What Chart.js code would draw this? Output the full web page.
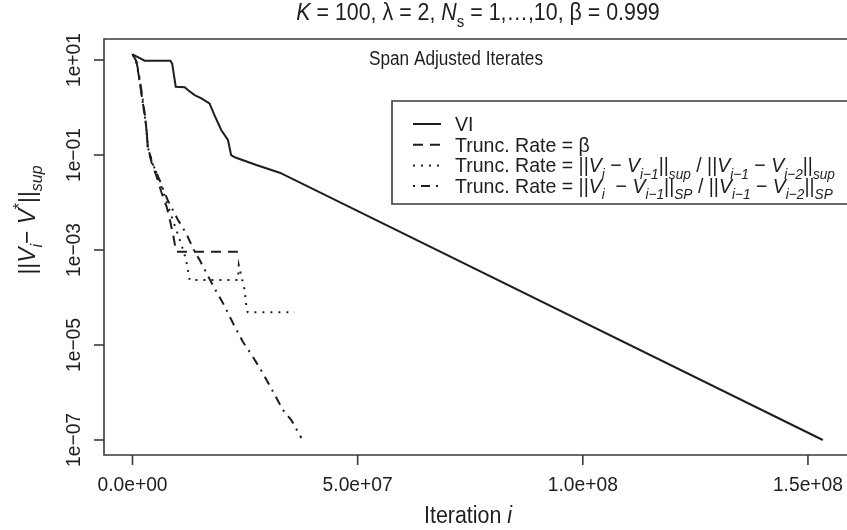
<!DOCTYPE html>
<html lang="en">
<head>
<meta charset="UTF-8">
<title>Span Adjusted Iterates</title>
<script src="https://cdn.jsdelivr.net/npm/chart.js"></script>
<style>
  html, body { margin: 0; padding: 0; background: #fff; }
  canvas { display: block; }
</style>
</head>
<body>
<canvas id="chart" width="847" height="530"></canvas>
<script>
// values (iteration i, ||V_i - V*||_sup)
const viX = [0, 2.7e6, 8.4e6, 8.8e6, 9.6e6, 1.16e7, 1.23e7, 1.38e7, 1.53e7, 1.71e7, 1.82e7, 1.97e7, 2.12e7, 2.19e7, 2.27e7, 2.75e7, 3.27e7, 1.533e8];
const viY = [13.2, 9.7, 9.7, 8.5, 2.74, 2.66, 2.34, 1.83, 1.56, 1.22, 0.695, 0.336, 0.207, 0.100, 0.0895, 0.0616, 0.0424, 1e-7];

const betaX = [0, 8e5, 1.3e6, 2.2e6, 3.0e6, 3.4e6, 4.2e6, 5.3e6, 6.4e6, 7.6e6, 8.4e6, 9.1e6, 9.7e6, 2.34e7];
const betaY = [13.2, 9.7, 5.3, 1.44, 0.428, 0.147, 0.0713, 0.0361, 0.0166, 0.0080, 0.0039, 0.0019, 9.2e-4, 9.2e-4];

const supX = [0, 8e5, 1.3e6, 2.2e6, 3.0e6, 3.4e6, 4.4e6, 5.8e6, 6.9e6, 8.0e6, 9.1e6, 1.02e7, 1.11e7, 1.19e7, 1.27e7, 2.34e7, 2.36e7, 2.42e7, 2.49e7, 2.53e7, 2.56e7, 3.6e7];
const supY = [13.2, 9.7, 5.3, 1.44, 0.428, 0.147, 0.068, 0.0328, 0.0158, 0.0077, 0.0039, 0.00197, 0.0011, 6.2e-4, 2.33e-4, 2.33e-4, 4.8e-4, 2.74e-4, 1.44e-4, 6.4e-5, 4.9e-5, 4.9e-5];

const spX = [0, 8e5, 1.4e6, 2.3e6, 3.05e6, 3.4e6, 4.2e6, 4.9e6, 6.0e6, 7.8e6, 1.01e7, 1.19e7, 1.38e7, 1.49e7, 1.82e7, 2.01e7, 2.23e7, 2.45e7, 2.67e7, 2.9e7, 3.12e7, 3.34e7, 3.53e7, 3.75e7];
const spY = [13.2, 9.7, 5.3, 1.44, 0.428, 0.147, 0.0785, 0.0525, 0.0298, 0.0113, 0.0043, 0.00225, 9.2e-4, 6.2e-4, 1.56e-4, 7.6e-5, 2.9e-5, 1.17e-5, 5.7e-6, 2.5e-6, 1.04e-6, 4.3e-7, 2.6e-7, 1.1e-7];

const xTicks = [0, 5e7, 1e8, 1.5e8];
const xTickLabels = ['0.0e+00', '5.0e+07', '1.0e+08', '1.5e+08'];
const yTicks = [1e1, 1e-1, 1e-3, 1e-5, 1e-7];
const yTickLabels = ['1e+01', '1e\u221201', '1e\u221203', '1e\u221205', '1e\u221207'];

const FONT = '"Liberation Sans", Arial, sans-serif';
const INK = '#1e1e1e';

// little rich-text helpers (italic, subscripts) for the math labels
const N = t => ({ t });
const I = t => ({ t, it: true });
const B = t => ({ t, it: true, sub: true });
const S = t => ({ t, sub: true });
const P = t => ({ t, sup: true });

function segWidth(ctx, s, size, sx) {
    const sz = (s.sub || s.sup) ? size * 0.7 : size;
    ctx.font = (s.it ? 'italic ' : '') + sz + 'px ' + FONT;
    return ctx.measureText(s.t).width * sx;
}

// draws a row of segments, squeezed horizontally by sx (narrow face)
function rich(ctx, segs, x, y, size, align, sx) {
    sx = sx || 0.93;
    let total = 0;
    segs.forEach(s => total += segWidth(ctx, s, size, sx));
    let cx = align === 'center' ? x - total / 2 : align === 'right' ? x - total : x;
    segs.forEach(s => {
        const w = segWidth(ctx, s, size, sx);
        const dy = s.sub ? size * 0.3 : s.sup ? -size * 0.4 : 0;
        ctx.save();
        ctx.translate(cx, y + dy);
        ctx.scale(sx, 1);
        ctx.fillText(s.t, 0, 0);
        ctx.restore();
        cx += w;
    });
}

const styles = {
    vi:   [],
    beta: [10, 7],
    sup:  [2, 6],
    sp:   [2, 6, 9, 6]
};

const legendRows = [
    { dash: styles.vi, segs: [N('VI')] },
    { dash: styles.beta, segs: [N('Trunc. Rate = \u03b2')] },
    { dash: styles.sup, segs: [N('Trunc. Rate = ||'), I('V'), B('i'), N(' \u2212 '), I('V'), B('i\u22121'), N('||'), B('sup'), N(' / ||'), I('V'), B('i\u22121'), N(' \u2212 '), I('V'), B('i\u22122'), N('||'), B('sup')] },
    { dash: styles.sp, segs: [N('Trunc. Rate = ||'), I('V'), B('i'), N('  \u2212 '), I('V'), B('i\u22121'), N('||'), B('SP'), N(' / ||'), I('V'), B('i\u22121'), N(' \u2212 '), I('V'), B('i\u22122'), N('||'), B('SP')] }
];

const decorations = {
    id: 'decorations',
    afterDraw(chart) {
        const ctx = chart.ctx;
        const a = chart.chartArea;
        const xs = chart.scales.x, ys = chart.scales.y;
        ctx.save();

        // box (right side runs off the picture)
        ctx.strokeStyle = '#3a3a3a';
        ctx.lineWidth = 1.6;
        ctx.setLineDash([]);
        ctx.beginPath();
        ctx.moveTo(chart.width + 5, a.top);
        ctx.lineTo(a.left, a.top);
        ctx.lineTo(a.left, a.bottom);
        ctx.lineTo(chart.width + 5, a.bottom);
        ctx.stroke();

        ctx.fillStyle = INK;
        ctx.textBaseline = 'alphabetic';

        // x axis ticks
        xTicks.forEach((v, i) => {
            const px = xs.getPixelForValue(v);
            ctx.beginPath();
            ctx.moveTo(px, a.bottom);
            ctx.lineTo(px, a.bottom + 10);
            ctx.stroke();
            rich(ctx, [N(xTickLabels[i])], px, 491, 20.7, 'center');
        });

        // y axis ticks, labels turned
        yTicks.forEach((v, i) => {
            const py = ys.getPixelForValue(v);
            ctx.beginPath();
            ctx.moveTo(a.left, py);
            ctx.lineTo(a.left - 10, py);
            ctx.stroke();
            ctx.save();
            ctx.translate(80, py);
            ctx.rotate(-Math.PI / 2);
            rich(ctx, [N(yTickLabels[i])], 0, 0, 20.7, 'center');
            ctx.restore();
        });

        // axis titles
        rich(ctx, [N('Iteration '), I('i')], 468, 523, 23, 'center');
        ctx.save();
        ctx.translate(35, 220);
        ctx.rotate(-Math.PI / 2);
        rich(ctx, [N('||'), I('V'), B('i'), N('\u2212 '), I('V'), P('*'), N('||'), B('sup')], 0, 0, 24.5, 'center');
        ctx.restore();

        // main title and inner label
        rich(ctx, [I('K'), N(' = 100, \u03bb = 2, '), I('N'), S('s'), N(' = 1,\u2026,10, \u03b2 = 0.999')], 478, 20, 23, 'center');
        rich(ctx, [N('Span Adjusted Iterates')], 456, 65, 20, 'center', 0.86);

        // legend
        ctx.fillStyle = '#fff';
        ctx.fillRect(392, 101, chart.width, 103);
        ctx.strokeStyle = '#3a3a3a';
        ctx.lineWidth = 1.6;
        ctx.beginPath();
        ctx.moveTo(chart.width + 5, 101);
        ctx.lineTo(392, 101);
        ctx.lineTo(392, 204);
        ctx.lineTo(chart.width + 5, 204);
        ctx.stroke();

        legendRows.forEach((row, i) => {
            const cy = 124 + i * 20.7;
            ctx.strokeStyle = INK;
            ctx.lineWidth = 2;
            ctx.setLineDash(row.dash);
            ctx.beginPath();
            ctx.moveTo(413, cy);
            ctx.lineTo(441, cy);
            ctx.stroke();
            ctx.setLineDash([]);
            ctx.fillStyle = INK;
            rich(ctx, row.segs, 455, cy + 7, 21, 'left');
        });

        ctx.restore();
    }
};

const pts = (xs, ys) => xs.map((x, i) => ({ x: x, y: ys[i] }));

const lineSet = (label, xs, ys, dash) => ({
    label: label,
    data: pts(xs, ys),
    borderColor: INK,
    borderWidth: 2,
    borderDash: dash,
    pointRadius: 0,
    fill: false,
    tension: 0
});

new Chart(document.getElementById('chart').getContext('2d'), {
    type: 'line',
    data: {
        datasets: [
            lineSet('VI', viX, viY, styles.vi),
            lineSet('Trunc. Rate = \u03b2', betaX, betaY, styles.beta),
            lineSet('Trunc. Rate (sup)', supX, supY, styles.sup),
            lineSet('Trunc. Rate (SP)', spX, spY, styles.sp)
        ]
    },
    options: {
        responsive: false,
        animation: false,
        devicePixelRatio: 1,
        layout: { padding: { left: 104, top: 39, right: 0, bottom: 75 } },
        scales: {
            x: { type: 'linear', min: -6.33e6, max: 1.5867e8, display: false },
            y: { type: 'logarithmic', min: 4.83e-8, max: 27.7, display: false }
        },
        plugins: {
            legend: { display: false },
            title: { display: false },
            tooltip: { enabled: false }
        }
    },
    plugins: [decorations]
});
</script>
</body>
</html>
